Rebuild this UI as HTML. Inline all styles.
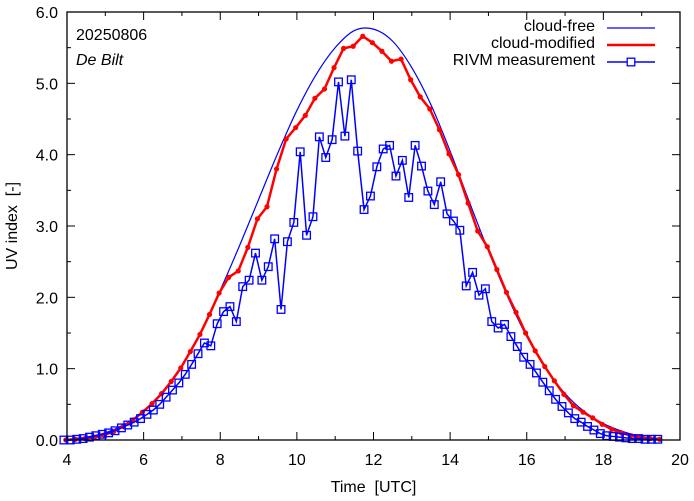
<!DOCTYPE html>
<html><head><meta charset="utf-8"><style>
html,body{margin:0;padding:0;background:#fff;}
svg{display:block;font-family:"Liberation Sans",sans-serif;}
</style></head><body>
<svg id="chart" width="694" height="501" viewBox="0 0 694 501"></svg>
<script>
const xTicks=[4,6,8,10,12,14,16,18,20];
const yTicks=[0,1,2,3,4,5,6];
const yTickLabels=["0.0","1.0","2.0","3.0","4.0","5.0","6.0"];
const freeStart=4.0, freeStep=0.5;
const freeVals=[0.01,0.04,0.10,0.22,0.40,0.66,1.03,1.52,2.10,2.72,3.37,4.02,4.62,5.12,5.50,5.74,5.76,5.59,5.22,4.70,4.05,3.34,2.65,2.01,1.45,1.00,0.65,0.40,0.23,0.12,0.05,0.02];
const modStart=3.97, modStep=0.25;
const modVals=[0.0,0.01,0.02,0.04,0.07,0.12,0.19,0.28,0.39,0.51,0.65,0.82,1.01,1.24,1.48,1.76,2.06,2.28,2.37,2.70,3.10,3.27,3.80,4.22,4.38,4.55,4.79,4.92,5.22,5.49,5.52,5.66,5.57,5.45,5.31,5.34,5.05,4.81,4.64,4.35,4.01,3.72,3.32,2.93,2.71,2.39,2.07,1.79,1.50,1.25,1.03,0.83,0.64,0.48,0.39,0.31,0.22,0.15,0.10,0.06,0.04,0.02,0.01];
const measStart=3.92, measStep=1/6;
const measVals=[0.0,0.0,0.01,0.02,0.04,0.06,0.08,0.10,0.13,0.17,0.21,0.25,0.30,0.36,0.42,0.50,0.60,0.70,0.80,0.92,1.06,1.21,1.36,1.32,1.63,1.80,1.87,1.66,2.15,2.24,2.62,2.24,2.43,2.82,1.83,2.78,3.05,4.04,2.87,3.13,4.25,3.96,4.21,5.02,4.26,5.05,4.05,3.23,3.42,3.83,4.08,4.13,3.70,3.92,3.40,4.13,3.84,3.49,3.30,3.62,3.17,3.07,2.94,2.16,2.35,2.03,2.12,1.66,1.57,1.62,1.45,1.31,1.16,1.06,0.94,0.81,0.69,0.57,0.47,0.38,0.30,0.25,0.19,0.14,0.09,0.06,0.05,0.04,0.03,0.02,0.02,0.01,0.01,0.01];

const L=67,R=680,T=12,B=440;
const xs=t=>L+(t-4)/16*(R-L);
const ys=v=>B-v/6*(B-T);
const svg=document.getElementById('chart');
const NS='http://www.w3.org/2000/svg';
function mk(tag,attrs,parent){const e=document.createElementNS(NS,tag);for(const k in attrs)e.setAttribute(k,attrs[k]);(parent||svg).appendChild(e);return e;}

const tg=mk('g',{});


for(let t=4;t<=20;t+=1){const len=(t%2===0)?8:4;const x=xs(t);
 mk('line',{x1:x,y1:B,x2:x,y2:B-len,stroke:'#000','stroke-width':1},tg);
 mk('line',{x1:x,y1:T,x2:x,y2:T+len,stroke:'#000','stroke-width':1},tg);}
for(let v=0;v<=6;v+=0.5){const len=(Math.abs(v-Math.round(v))<1e-6)?8:4;const y=ys(v);
 mk('line',{x1:L,y1:y,x2:L+len,y2:y,stroke:'#000','stroke-width':1},tg);
 mk('line',{x1:R,y1:y,x2:R-len,y2:y,stroke:'#000','stroke-width':1},tg);}
xTicks.forEach(t=>{const e=mk('text',{x:xs(t),y:B+25,'text-anchor':'middle','font-size':16,fill:'#000'});e.textContent=String(t);
 });
yTicks.forEach((v,i)=>{const e=mk('text',{x:L-9,y:ys(v)+6,'text-anchor':'end','font-size':16,fill:'#000'});e.textContent=yTickLabels[i];
 });

const fp=freeVals.map((v,i)=>[xs(freeStart+i*freeStep),ys(v)]);
let d='M'+fp[0][0]+','+fp[0][1];
for(let i=0;i<fp.length-1;i++){const p0=fp[Math.max(0,i-1)],p1=fp[i],p2=fp[i+1],p3=fp[Math.min(fp.length-1,i+2)];
 d+=' C'+(p1[0]+(p2[0]-p0[0])/6)+','+(p1[1]+(p2[1]-p0[1])/6)+' '+(p2[0]-(p3[0]-p1[0])/6)+','+(p2[1]-(p3[1]-p1[1])/6)+' '+p2[0]+','+p2[1];}
const fl=mk('path',{d:d,fill:'none',stroke:'#0000ff','stroke-width':1.2});



const mp=modVals.map((v,i)=>xs(modStart+i*modStep)+','+ys(v)).join(' ');
const ml=mk('polyline',{points:mp,fill:'none',stroke:'#ff0000','stroke-width':2.5});


modVals.forEach((v,i)=>{const c=mk('circle',{cx:xs(modStart+i*modStep),cy:ys(v),r:2.6,fill:'#ff0000'});
 });

const pp=measVals.map((v,i)=>xs(measStart+i*measStep)+','+ys(v)).join(' ');
const pl=mk('polyline',{points:pp,fill:'none',stroke:'#0000ff','stroke-width':1.5});


measVals.forEach((v,i)=>{const r=mk('rect',{x:xs(measStart+i*measStep)-3.8,y:ys(v)-3.8,width:7.6,height:7.6,fill:'none',stroke:'#0000ff','stroke-width':1.3});
 });

const fr=mk('rect',{x:L,y:T,width:R-L,height:B-T,fill:'none',stroke:'#000','stroke-width':1.3});



const xt=mk('text',{x:(L+R)/2,y:492,'text-anchor':'middle','font-size':16,fill:'#000'});
xt.textContent='Time\u00a0\u00a0[UTC]';

const yt=mk('text',{x:0,y:0,'text-anchor':'middle','font-size':16,fill:'#000',transform:'translate(17,226) rotate(-90)'});
yt.textContent='UV index\u00a0\u00a0[-]';


const a1=mk('text',{x:76,y:40,'font-size':16,fill:'#000'});a1.textContent='20250806';

const a2=mk('text',{x:76,y:65,'font-size':16,'font-style':'italic',fill:'#000'});a2.textContent='De Bilt';


const lg=mk('g',{});


const items=[['cloud-free',33],['cloud-modified',50],['RIVM measurement',67]];
items.forEach((it,i)=>{const t=mk('text',{x:595,y:it[1]-2,'text-anchor':'end','font-size':16,fill:'#000'},lg);t.textContent=it[0];
 });
mk('line',{x1:607,y1:28,x2:655,y2:28,stroke:'#0000ff','stroke-width':1.2},lg);
mk('line',{x1:607,y1:45,x2:655,y2:45,stroke:'#ff0000','stroke-width':2.5},lg);
mk('line',{x1:607,y1:62,x2:655,y2:62,stroke:'#0000ff','stroke-width':1.5},lg);
mk('rect',{x:627.2,y:58.2,width:7.6,height:7.6,fill:'#fff',stroke:'#0000ff','stroke-width':1.3},lg);
</script>
</body></html>
